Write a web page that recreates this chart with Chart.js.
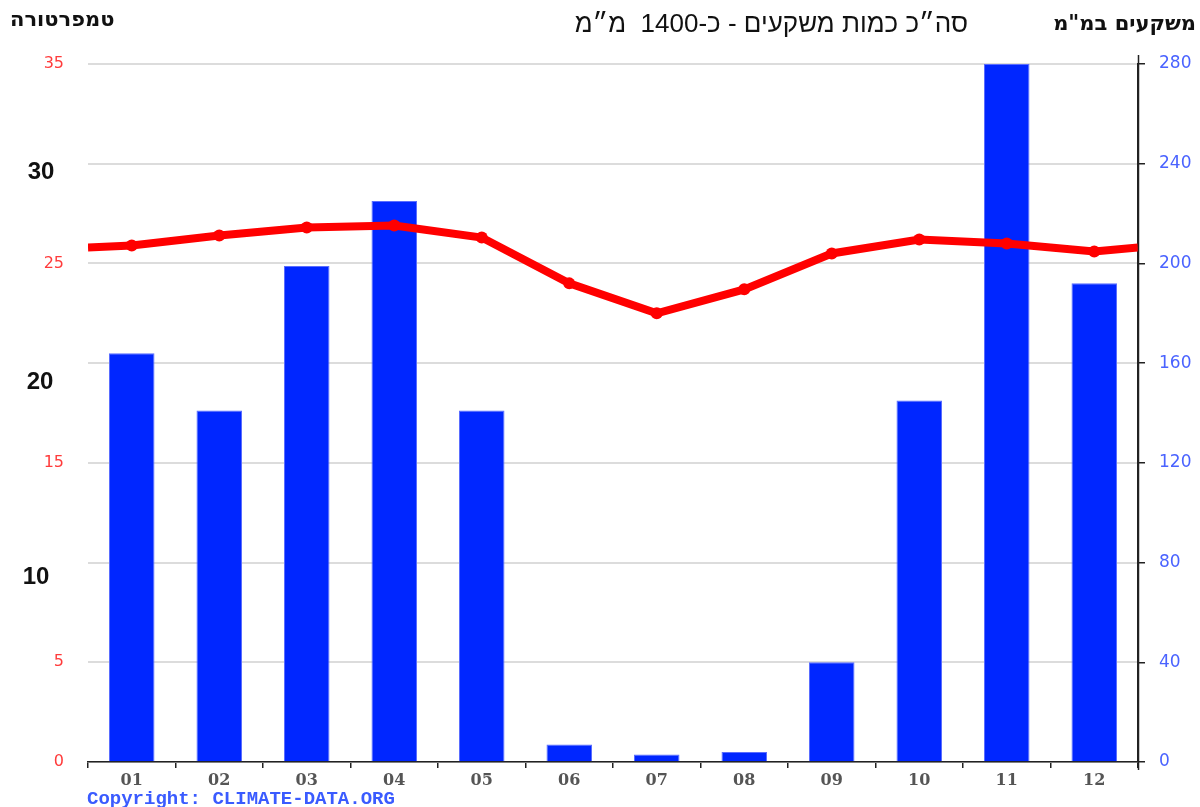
<!DOCTYPE html>
<html lang="he">
<head>
    <meta charset="UTF-8">
    <title>אקלים</title>
    <script src="https://cdn.jsdelivr.net/npm/chart.js"></script>
    <style>
        html, body { margin: 0; padding: 0; background: white; }
        #grafico { display: block; }
    </style>
</head>
<body>
    <canvas id="grafico" width="1200" height="807"></canvas>

    <script>
        // datos
        const meses = ['01', '02', '03', '04', '05', '06', '07', '08', '09', '10', '11', '12'];
        const lluvia = [164, 141, 199, 225, 141, 7, 3, 4, 40, 145, 280, 192];
        const temperatura = [25.9, 26.4, 26.8, 26.9, 26.3, 24.0, 22.5, 23.7, 25.5, 26.2, 26.0, 25.6];
        const tempBordes = [25.8, 25.8]; // donde la linea toca los bordes izquierdo / derecho
        const ticksTemp = [0, 5, 10, 15, 20, 25, 30, 35];
        const ticksLluvia = [0, 40, 80, 120, 160, 200, 240, 280];

        const tituloIzq = 'טמפרטורה';
        const tituloDer = 'משקעים במ"מ';
        const tituloCentro = 'סה״כ כמות משקעים - כ-1400  מ״מ';
        const etiquetasNegras = ['30', '20', '10'];

        // la linea va sobre un eje lineal oculto (0..12) para poder llegar a los bordes
        const puntosLinea = [{ x: 0, y: tempBordes[0] }]
            .concat(temperatura.map((t, i) => ({ x: i + 0.5, y: t })))
            .concat([{ x: 12, y: tempBordes[1] }]);

        const textos = {
            id: 'textos',
            afterDraw(chart) {
                const ctx = chart.ctx;
                ctx.save();
                ctx.direction = 'rtl';
                ctx.fillStyle = '#111';
                ctx.textBaseline = 'middle';

                ctx.font = 'bold 21px "DejaVu Sans", sans-serif';
                ctx.textAlign = 'left';
                ctx.fillText(tituloIzq, 10, 21);

                ctx.textAlign = 'right';
                ctx.fillText(tituloDer, 1196, 25);

                ctx.font = '26px "Liberation Sans", sans-serif';
                ctx.textAlign = 'right';
                ctx.fillText(tituloCentro, 968, 25);

                // numeros negros sueltos del lado izquierdo
                ctx.direction = 'ltr';
                ctx.textAlign = 'center';
                ctx.font = 'bold 24px "Liberation Sans", sans-serif';
                ctx.fillText(etiquetasNegras[0], 41, 172);
                ctx.fillText(etiquetasNegras[1], 40, 382);
                ctx.fillText(etiquetasNegras[2], 36, 577);

                ctx.textAlign = 'left';
                ctx.fillStyle = '#3a5bff';
                ctx.font = 'bold 19px "Liberation Mono", monospace';
                ctx.fillText('Copyright: CLIMATE-DATA.ORG', 87, 799);

                // pequeñas prolongaciones del eje derecho
                ctx.strokeStyle = '#222';
                ctx.lineWidth = 1.5;
                ctx.beginPath();
                ctx.moveTo(1138.5, 55);
                ctx.lineTo(1138.5, 770);
                ctx.stroke();
                ctx.restore();
            }
        };

        new Chart(document.getElementById('grafico'), {
            type: 'bar',
            data: {
                labels: meses,
                datasets: [{
                    type: 'line',
                    data: puntosLinea,
                    xAxisID: 'xl',
                    yAxisID: 'yL',
                    borderColor: '#ff0000',
                    backgroundColor: '#ff0000',
                    borderWidth: 8,
                    pointRadius: puntosLinea.map((p, i) => (i === 0 || i === puntosLinea.length - 1) ? 0 : 6),
                    pointBorderWidth: 0,
                    tension: 0,
                    order: 0
                }, {
                    data: lluvia,
                    xAxisID: 'x',
                    yAxisID: 'yR',
                    backgroundColor: '#0026ff',
                    borderColor: '#5a6dff',
                    borderWidth: 1,
                    grouped: false,
                    barPercentage: 0.52,
                    categoryPercentage: 1,
                    order: 1
                }]
            },
            options: {
                responsive: false,
                animation: false,
                layout: { padding: { top: 64, left: 0, right: 0, bottom: 0 } },
                plugins: {
                    legend: { display: false },
                    tooltip: { enabled: false }
                },
                scales: {
                    x: {
                        position: 'bottom',
                        offset: true,
                        afterFit: s => { s.height = 45; },
                        border: { color: '#222', width: 1.5 },
                        grid: {
                            offset: true,
                            drawOnChartArea: false,
                            drawTicks: true,
                            tickLength: 6,
                            color: '#222',
                            lineWidth: 1.5
                        },
                        ticks: {
                            color: '#555',
                            padding: 3,
                            maxRotation: 0,
                            font: { family: '"DejaVu Serif", serif', size: 16, weight: 'bold' }
                        }
                    },
                    xl: {
                        type: 'linear',
                        display: false,
                        offset: false,
                        min: 0,
                        max: 12
                    },
                    yL: {
                        position: 'left',
                        min: 0,
                        max: 35,
                        afterFit: s => { s.width = 88; },
                        afterBuildTicks: s => { s.ticks = ticksTemp.map(v => ({ value: v })); },
                        border: { display: false },
                        grid: { color: '#dcdcdc', lineWidth: 2, drawTicks: false },
                        ticks: {
                            color: '#ff3b3b',
                            padding: 24,
                            // los valores 30, 20 y 10 van tapados por los numeros negros
                            callback: v => etiquetasNegras.includes(String(v)) ? '' : v,
                            font: { family: '"DejaVu Sans", sans-serif', size: 16 }
                        }
                    },
                    yR: {
                        position: 'right',
                        min: 0,
                        max: 280,
                        afterFit: s => { s.width = 62; },
                        afterBuildTicks: s => { s.ticks = ticksLluvia.map(v => ({ value: v })); },
                        border: { color: '#222', width: 1.5 },
                        grid: {
                            drawOnChartArea: false,
                            drawTicks: true,
                            tickLength: 7,
                            color: '#222',
                            lineWidth: 1.5
                        },
                        ticks: {
                            color: '#4a63ff',
                            padding: 14,
                            font: { family: '"DejaVu Sans", sans-serif', size: 17 }
                        }
                    }
                }
            },
            plugins: [textos]
        });
    </script>
</body>
</html>
